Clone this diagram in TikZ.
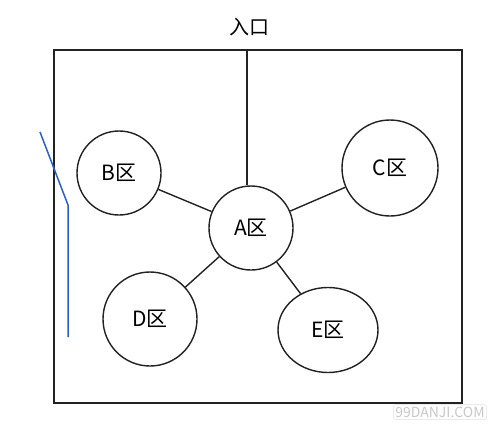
\documentclass[tikz,border=0pt]{standalone}
\usepackage{fontspec}
\setmainfont{Noto Sans CJK SC}
\usetikzlibrary{shapes.geometric}
\definecolor{linegray}{HTML}{222222}
\definecolor{wallblue}{HTML}{2A5FD0}
\definecolor{markgray}{HTML}{C8C8C8}
\tikzset{
  zone/.style={draw=linegray, circle, line width=1.4pt, fill=white, inner sep=0pt, font=\fontsize{21}{21}\selectfont},
  zonee/.style={zone, ellipse},
  ln/.style={line width=1.4pt, draw=linegray},
}
\begin{document}
\begin{tikzpicture}[x=1pt,y=-1pt]
    \useasboundingbox (0,0) rectangle (500,431);
    % recinto
    \draw[ln] (54,50) rectangle (462,403);
    \node[font=\fontsize{20}{20}\selectfont] (entrada) at (249,27) {入口};
    \coordinate (puerta) at (247,50);

    % zonas
    \node[zone, minimum size=84pt] (A) at (251,228) {A区};
    \node[zone, minimum size=84pt] (B) at (119,173) {B区};
    \node[zone, minimum size=96pt] (C) at (390,168) {C区};
    \node[zone, minimum size=94pt] (D) at (150,319) {D区};
    \node[zonee, minimum width=100pt, minimum height=85pt] (E) at (328,330) {E区};

    \draw[ln] (puerta) -- (puerta |- A.north);
    \foreach \z in {B,C,D,E}{ \draw[ln] (A) -- (\z); }

    % linea azul
    \coordinate (w1) at (40,132);
    \coordinate (w2) at (68,205);
    \coordinate (w3) at (68,337);
    \draw[wallblue, line width=1.5pt] (w1) -- (w2) -- (w3);

    \node[draw=markgray!60, rounded corners=2pt, text=markgray, font=\fontsize{14}{14}\selectfont, inner sep=2pt] (marca) at (440,412) {99DANJI.COM};
\end{tikzpicture}
\end{document}
